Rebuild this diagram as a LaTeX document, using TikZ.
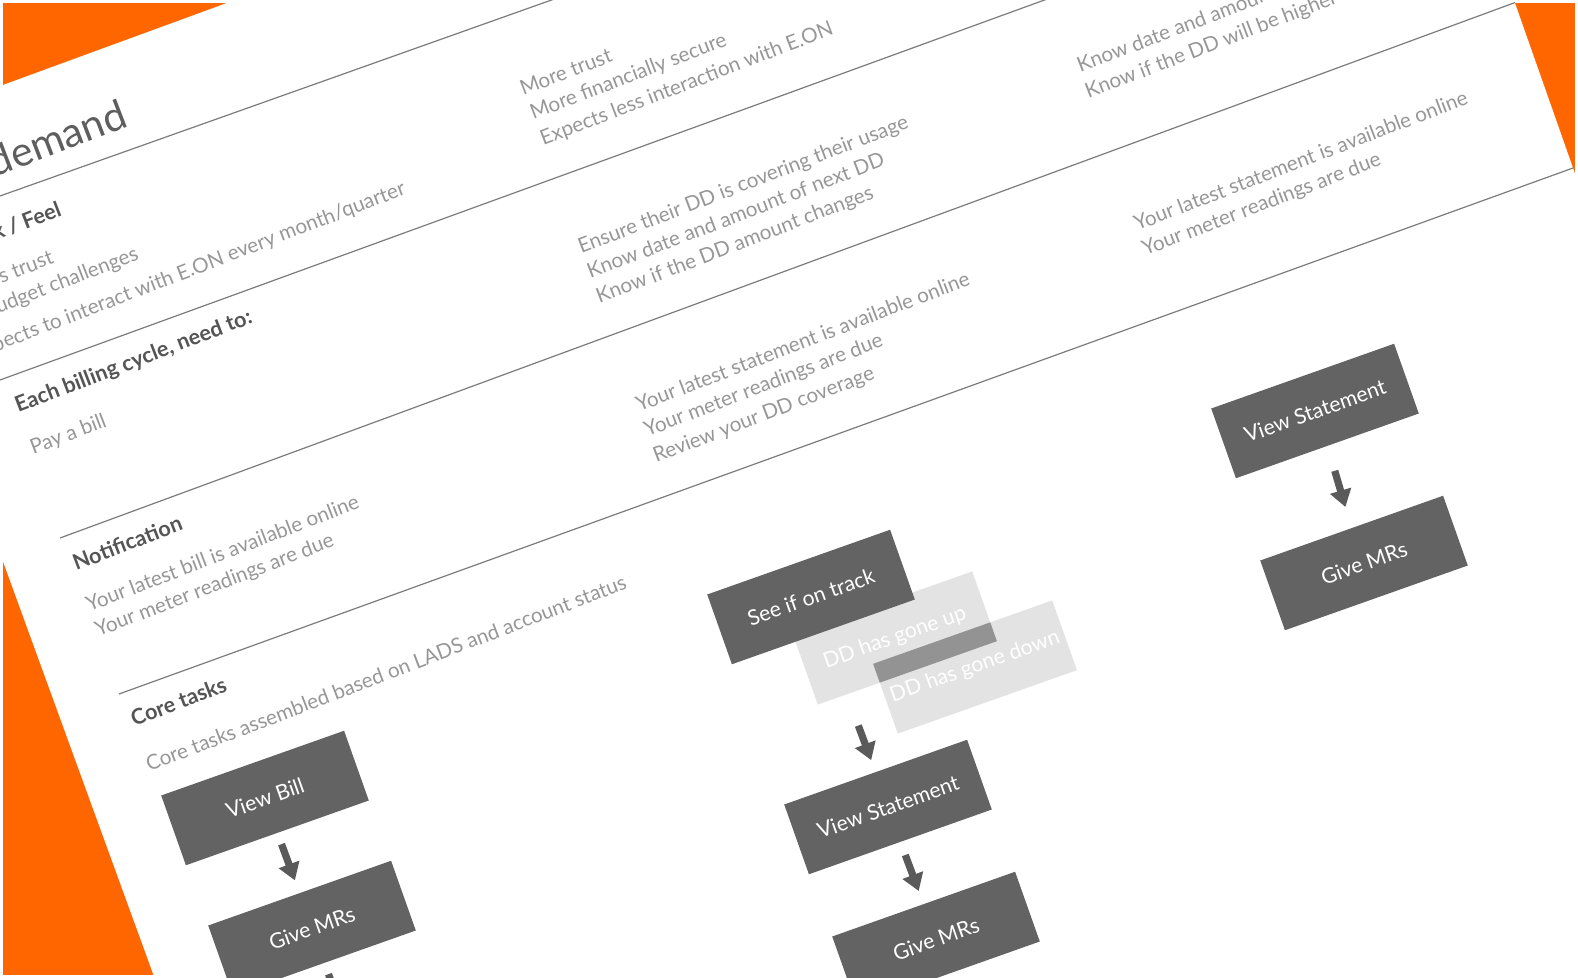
\documentclass[tikz,border=0pt]{standalone}
\usepackage{fontspec}
\setmainfont{Lato}
\usetikzlibrary{arrows.meta}
\definecolor{eon}{HTML}{FF6600}
\definecolor{bodygray}{HTML}{979797}
\definecolor{headgray}{HTML}{555555}
\definecolor{titlegray}{HTML}{5E5E5E}
\definecolor{boxgray}{HTML}{636363}
\definecolor{ghostgray}{HTML}{E3E3E3}
\definecolor{overlapgray}{HTML}{939393}
\definecolor{linegray}{HTML}{7C7C7C}
\definecolor{arrowgray}{HTML}{5A5A5A}
\begin{document}
\begin{tikzpicture}[x=0.5pt,y=-0.5pt,
  body/.style={font=\fontsize{10.3}{12}\selectfont, text=bodygray, inner sep=0pt, anchor=base west, rotate=21},
  head/.style={font=\bfseries\fontsize{10.8}{12}\selectfont, text=headgray, inner sep=0pt, anchor=base west, rotate=21},
  title/.style={font=\fontsize{20.5}{24}\selectfont, text=titlegray, inner sep=0pt, anchor=base east, rotate=21},
  box/.style={fill=boxgray, text=white, font=\fontsize{10.6}{12}\selectfont, minimum width=97pt, minimum height=37pt, inner sep=0pt, outer sep=0pt, rotate=19.5},
  ghost/.style={fill=ghostgray, minimum width=95pt, minimum height=37pt, inner sep=0pt, outer sep=0pt, rotate=19.5},
  ghosttext/.style={text=white, font=\fontsize{10.6}{12}\selectfont, inner sep=0pt, rotate=19.5},
  sep/.style={draw=linegray, line width=0.6pt},
  flow/.style={draw=arrowgray, line width=3.6pt, -{Triangle[width=10.5pt,length=8.5pt]}}
]
\useasboundingbox (0,0) rectangle (1578,978);
\clip (0,0) rectangle (1578,978);
\fill[white] (0,0) rectangle (1578,978);
\fill[eon] (3,3) rectangle (1575,975);
\fill[white] (-150,141) -- (1368,-414.8) -- (1936,1200) -- (235.4,1200) -- cycle;
\begin{scope}
\clip (-150,141) -- (1368,-414.8) -- (1936,1200) -- (235.4,1200) -- cycle;
% separators
\draw[sep] (0,196) -- (560,-3);
\draw[sep] (0,380) -- (1050,-2);
\draw[sep] (60,538) -- (1560,-14);
\draw[sep] (119,694) -- (1620,151);
% left column
\node[title] (title) at (130,126) {demand};
\node[head, anchor=base east] (h1) at (63,215) {Think / Feel};
\node[body, anchor=base east] (l1) at (55,263) {Less trust};
\node[body, anchor=base east] (l2) at (140,259) {Budget challenges};
\node[body, anchor=base east] (l3) at (407,194) {Expects to interact with E.ON every month/quarter};
\node[head] (h2) at (18,413) {Each billing cycle, need to:};
\node[body] (l4) at (33,455) {Pay a bill};
\node[head] (h3) at (76,571) {Notification};
\node[body] (l5) at (89,612) {Your latest bill is available online};
\node[body] (l6) at (98,637) {Your meter readings are due};
\node[head] (h4) at (134,727) {Core tasks};
\node[body] (l7) at (149,772) {Core tasks assembled based on LADS and account status};
% middle column
\node[body] (m1) at (523,96) {More trust};
\node[body] (m2) at (533,120) {More financially secure};
\node[body] (m3) at (543,146) {Expects less interaction with E.ON};
\node[body] (m4) at (581,254) {Ensure their DD is covering their usage};
\node[body] (m5) at (590,279) {Know date and amount of next DD};
\node[body] (m6) at (599,304) {Know if the DD amount changes};
\node[body] (m7) at (639,412) {Your latest statement is available online};
\node[body] (m8) at (647,437) {Your meter readings are due};
\node[body] (m9) at (656,463) {Review your DD coverage};
% right column
\node[body] (r1) at (1080,73) {Know date and amount of next DD};
\node[body] (r2) at (1088,99) {Know if the DD will be higher than};
\node[body] (r3) at (1137,231) {Your latest statement is available online};
\node[body] (r4) at (1145,256) {Your meter readings are due};
% boxes
\node[box] (vbill) at (265,798) {View Bill};
\node[box] (gmrL) at (312,928) {Give MRs};
\node[ghost] (up) at (895,638) {};
\node[ghost] (down) at (975,667) {};
\begin{scope}
\clip (up.north west) -- (up.north east) -- (up.south east) -- (up.south west) -- cycle;
\fill[overlapgray] (down.north west) -- (down.north east) -- (down.south east) -- (down.south west) -- cycle;
\end{scope}
\node[ghosttext] (upt) at (up.center) {DD has gone up};
\node[ghosttext] (downt) at (down.center) {DD has gone down};
\node[box] (track) at (811,597) {See if on track};
\node[box] (vstM) at (888,807) {View Statement};
\node[box] (gmrM) at (936,939) {Give MRs};
\node[box] (vstR) at (1315,411) {View Statement};
\node[box] (gmrR) at (1364,563) {Give MRs};
\coordinate (offL) at (359,1057);
% arrows
\draw[flow, shorten <=6pt, shorten >=6.8pt] (vbill.south) -- (gmrL.north);
\draw[flow, shorten <=6pt] (gmrL.south) -- (offL);
\draw[flow, shorten <=50pt, shorten >=6.4pt] (track.south) -- (vstM.north);
\draw[flow, shorten <=7pt, shorten >=7pt] (vstM.south) -- (gmrM.north);
\draw[flow, shorten <=13pt, shorten >=11pt] (vstR.south) -- (gmrR.north);
\end{scope}
\end{tikzpicture}
\end{document}
